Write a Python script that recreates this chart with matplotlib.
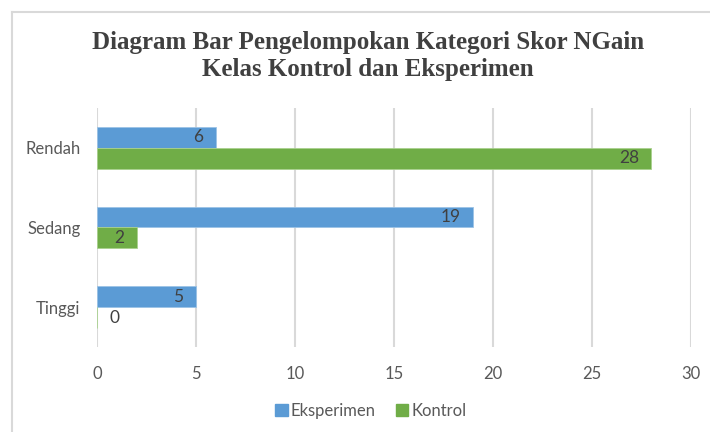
import matplotlib.pyplot as plt
from matplotlib.lines import Line2D
from matplotlib.patches import Patch
import numpy as np

categories = ["Rendah", "Sedang", "Tinggi"]
eksperimen = [6, 19, 5]
kontrol = [28, 2, 0]
x_ticks = [0, 5, 10, 15, 20, 25, 30]

BLUE = "#5b9bd5"
GREEN = "#70ad47"
GRID = "#d9d9d9"
TICK = "#595959"
LABEL = "#404040"

W, H = 710, 432
fig = plt.figure(figsize=(W / 100, H / 100), dpi=100)

# chart frame (only left and top edges are visible in the crop)
fig.add_artist(Line2D([12 / W, 12 / W], [0, 1 - 12 / H], color=GRID, lw=1.5,
                      transform=fig.transFigure))
fig.add_artist(Line2D([12 / W, 1], [1 - 12 / H, 1 - 12 / H], color=GRID, lw=1.5,
                      transform=fig.transFigure))

ax = fig.add_axes([97 / W, 1 - 347 / H, 594 / W, 239 / H])

y = np.arange(len(categories))
h = 0.26
ax.barh(y - h / 2, eksperimen, height=h, color=BLUE, edgecolor="#9cc3e6",
        linewidth=0.6, label="Eksperimen", zorder=3)
ax.barh(y + h / 2, kontrol, height=h, color=GREEN, edgecolor="#a9d18e",
        linewidth=0.6, label="Kontrol", zorder=3)

for ys, vals in [(y - h / 2, eksperimen), (y + h / 2, kontrol)]:
    for yy, v in zip(ys, vals):
        if v == 0:
            ax.annotate(str(v), (v, yy), xytext=(9, 0), textcoords="offset points",
                        ha="left", va="center", fontsize=12.5, color=LABEL,
                        family="Lato", zorder=4)
        else:
            ax.annotate(str(v), (v, yy), xytext=(-9, 0), textcoords="offset points",
                        ha="right", va="center", fontsize=12.5, color=LABEL,
                        family="Lato", zorder=4)

ax.set_xlim(0, 30)
ax.set_ylim(2.5, -0.5)
ax.set_xticks(x_ticks)
ax.set_yticks(y)
ax.set_yticklabels(categories)
ax.grid(axis="x", color=GRID, lw=1.5, zorder=0)
for s in ax.spines.values():
    s.set_visible(False)
ax.tick_params(axis="both", length=0, labelsize=12, labelcolor=TICK)
ax.tick_params(axis="x", pad=14)
ax.tick_params(axis="y", pad=12)
for lab in ax.get_xticklabels() + ax.get_yticklabels():
    lab.set_family("Lato")

fig.text(368 / W, 1 - 56 / H,
         "Diagram Bar Pengelompokan Kategori Skor NGain\nKelas Kontrol dan Eksperimen",
         ha="center", va="center", fontsize=18, fontweight="bold",
         family="Liberation Serif", color=LABEL, linespacing=1.2)

handles = [Patch(color=BLUE, label="Eksperimen"), Patch(color=GREEN, label="Kontrol")]
fig.legend(handles=handles, loc="center", bbox_to_anchor=(371 / W, 1 - 411 / H),
           ncol=2, frameon=False, handlelength=0.75, handleheight=0.75,
           handletextpad=0.2, columnspacing=1.2,
           prop={"family": "Lato", "size": 12}, labelcolor=TICK)

fig.savefig("out.png", dpi=100)
